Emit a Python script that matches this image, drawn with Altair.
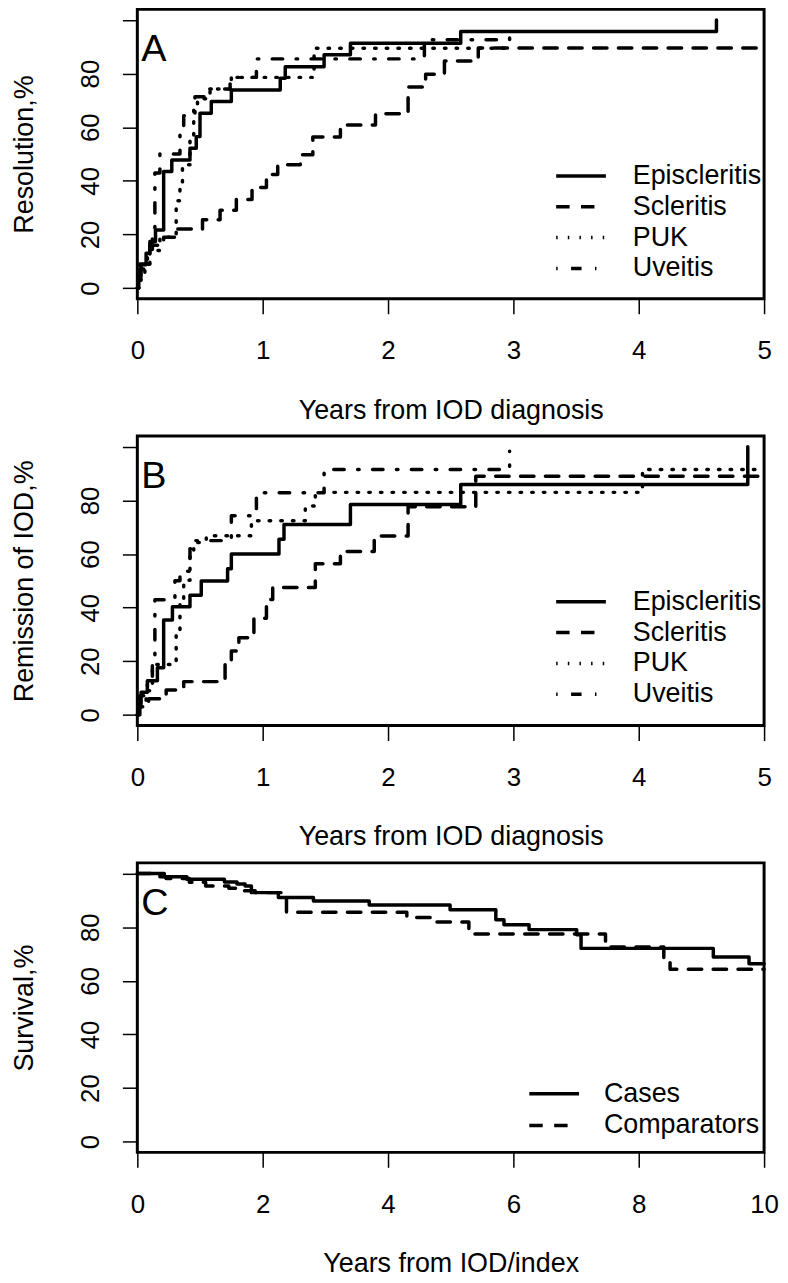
import altair as alt
import pandas as pd

FONT = "Liberation Sans"

GROUPS = ["Episcleritis", "Scleritis", "PUK", "Uveitis"]
C_GROUPS = ["Cases", "Comparators"]

# Panel A: resolution (%)
A_EPI_T = [0, 0.01, 0.03, 0.07, 0.10, 0.145, 0.21, 0.275, 0.42, 0.47, 0.50, 0.59, 0.75, 1.14, 1.18, 1.49, 1.70, 2.58, 4.62]
A_EPI_Y = [0, 4.3, 8.7, 13.0, 17.4, 21.7, 43.5, 47.8, 52.2, 56.5, 65.2, 69.6, 73.9, 78.3, 82.6, 87.0, 91.3, 95.7, 100]
A_SCL_T = [0, 0.01, 0.02, 0.10, 0.21, 0.31, 0.52, 0.66, 0.79, 0.915, 1.03, 1.12, 1.30, 1.40, 1.62, 1.90, 2.16, 2.30, 2.45, 2.72, 5.0]
A_SCL_Y = [0, 3, 9, 16, 19, 22, 25.5, 29, 33, 37.5, 42.4, 46, 49.7, 56.4, 60.8, 65, 75, 79.8, 84.7, 89.6, 89.6]
A_PUK_T = [0, 0.03, 0.06, 0.10, 0.18, 0.31, 0.34, 0.36, 0.42, 0.45, 0.48, 0.58, 0.75, 1.41, 2.97]
A_PUK_Y = [0, 4, 9, 14, 19, 32.6, 39, 46, 57, 67, 70.6, 74.3, 78.6, 89.5, 89.5]
A_UVE_T = [0, 0.02, 0.08, 0.12, 0.14, 0.18, 0.34, 0.37, 0.46, 0.54, 0.74, 0.95, 2.29, 2.97]
A_UVE_Y = [0, 7.1, 14.3, 21.4, 42.9, 50, 57.1, 64.3, 71.4, 74.3, 78.6, 85.5, 92.6, 98]

# Panel B: remission of IOD (%)
B_EPI_T = [0, 0.01, 0.03, 0.08, 0.16, 0.21, 0.28, 0.42, 0.51, 0.72, 0.75, 1.13, 1.17, 1.70, 2.58, 4.87]
B_EPI_Y = [0, 4.2, 8.4, 12.7, 17.6, 35.4, 40.3, 44.6, 49.9, 54.5, 60, 65.5, 71, 78.5, 85.9, 100]
B_SCL_T = [0, 0.02, 0.09, 0.23, 0.37, 0.70, 0.75, 0.81, 0.93, 1.03, 1.08, 1.42, 1.62, 1.89, 2.16, 2.70, 5.0]
B_SCL_Y = [0, 3, 6, 9.3, 12.4, 19, 23.8, 28.8, 36, 43, 47.5, 56.4, 60.9, 66.7, 77.6, 89, 89]
B_PUK_T = [0, 0.03, 0.07, 0.12, 0.31, 0.34, 0.37, 0.42, 0.45, 0.55, 0.91, 1.34, 1.42, 4.03, 5.0]
B_PUK_Y = [0, 4, 9, 18.8, 31, 43.4, 50.2, 61.3, 64.3, 66.8, 72.4, 77.9, 83, 91.5, 91.5]
B_UVE_T = [0, 0.02, 0.08, 0.12, 0.14, 0.30, 0.34, 0.42, 0.45, 0.75, 0.95, 1.49, 2.97]
B_UVE_Y = [0, 7.1, 14.3, 21.4, 42.9, 50, 53.6, 62, 65, 74.3, 82.9, 91.5, 98.3]

# Panel C: survival (%)
C_CASE_T = [0, 0.43, 0.79, 1.39, 1.59, 1.72, 1.82, 2.25, 2.81, 3.70, 4.99, 5.72, 5.85, 6.25, 7.01, 7.08, 9.19, 9.76, 10.0]
C_CASE_Y = [100, 98.8, 97.9, 96.9, 96.1, 95.4, 92.9, 91.1, 89.8, 88.3, 86.5, 82.8, 80.9, 79.1, 77.2, 72.1, 68.9, 66.4, 66.4]
C_COMP_T = [0, 0.36, 0.46, 0.83, 1.09, 1.46, 1.69, 1.88, 2.38, 4.30, 4.70, 5.29, 7.47, 8.40, 8.50, 10.0]
C_COMP_Y = [100, 98.8, 98.2, 96.8, 95.4, 94.5, 93.6, 92.9, 85.6, 83.6, 81.9, 77.5, 72.6, 68, 64.3, 64.3]

Y_TICKS = [0, 20, 40, 60, 80, 100]
AB_X_TICKS = [0, 1, 2, 3, 4, 5]
C_X_TICKS = [0, 2, 4, 6, 8, 10]

DASH4 = [[1, 0], [13.5, 11.5], [1.5, 10.2], [1.5, 13.5, 10.5, 13.5]]
DASH2 = [[1, 0], [13.5, 11.5]]

W, H = 630, 291


def steps(groups, times, values):
    rows = []
    for g, ts, vs in zip(groups, times, values):
        for i, (t, v) in enumerate(zip(ts, vs)):
            rows.append({"group": g, "t": t, "v": v, "order": i})
    return pd.DataFrame(rows)


def panel(df, letter, xmax, xticks, xtitle, ytitle, groups, dashes, lx, ly, loff, rowh):
    x = alt.X("t:Q", scale=alt.Scale(domain=[0, xmax], nice=False, zero=False),
              axis=alt.Axis(values=xticks, title=xtitle))
    y = alt.Y("v:Q", scale=alt.Scale(domain=[-4, 104], nice=False, zero=False),
              axis=alt.Axis(values=Y_TICKS, title=ytitle,
                            labelExpr="datum.value == 100 ? '' : datum.label"))
    legend = alt.Legend(title=None, orient="none", legendX=lx, legendY=ly,
                        symbolType="stroke", symbolSize=2500, symbolStrokeWidth=3.5,
                        symbolStrokeColor="black", labelFont=FONT, labelFontSize=27,
                        labelColor="black", labelOffset=loff, clipHeight=rowh,
                        rowPadding=0, padding=0, labelLimit=0)
    lines = alt.Chart(df).mark_line(
        interpolate="step-after", color="black", strokeWidth=3.5,
        strokeCap="round", strokeJoin="round"
    ).encode(
        x=x, y=y,
        strokeDash=alt.StrokeDash("group:N", scale=alt.Scale(domain=groups, range=dashes),
                                  sort=groups, legend=legend),
        order="order:Q",
    )
    label = alt.Chart(pd.DataFrame({"label": [letter]})).mark_text(
        align="left", baseline="alphabetic", fontSize=38, font=FONT, color="black"
    ).encode(x=alt.value(4), y=alt.value(52), text="label:N")
    return alt.layer(lines, label).properties(width=W, height=H)


dfA = steps(GROUPS, [A_EPI_T, A_SCL_T, A_PUK_T, A_UVE_T], [A_EPI_Y, A_SCL_Y, A_PUK_Y, A_UVE_Y])
dfB = steps(GROUPS, [B_EPI_T, B_SCL_T, B_PUK_T, B_UVE_T], [B_EPI_Y, B_SCL_Y, B_PUK_Y, B_UVE_Y])
dfC = steps(C_GROUPS, [C_CASE_T, C_COMP_T], [C_CASE_Y, C_COMP_Y])

pA = panel(dfA, "A", 5, AB_X_TICKS, "Years from IOD diagnosis", "Resolution,%",
           GROUPS, DASH4, 419, 152, 25, 31)
pB = panel(dfB, "B", 5, AB_X_TICKS, "Years from IOD diagnosis", "Remission of IOD,%",
           GROUPS, DASH4, 419, 151, 25, 31)
pC = panel(dfC, "C", 10, C_X_TICKS, "Years from IOD/index", "Survival,%",
           C_GROUPS, DASH2, 392, 216, 23, 32)

chart = alt.vconcat(pA, pB, pC, spacing=9).resolve_scale(
    strokeDash="independent", x="independent", y="independent"
).resolve_legend(strokeDash="independent").properties(
    padding={"left": 1, "top": -4, "right": 0, "bottom": 0}
).configure_view(
    stroke="black", strokeWidth=3
).configure_axis(
    domain=False, grid=False, tickColor="black", tickWidth=1.5, tickSize=15,
    labelFont=FONT, labelFontSize=26, labelColor="black", labelPadding=24,
    labelFlush=False, labelOverlap=False, labelBound=False,
    titleFont=FONT, titleFontSize=27, titleFontWeight="normal", titleColor="black",
    titlePadding=34
).configure_axisLeft(
    labelAngle=-90, labelAlign="center", labelBaseline="alphabetic", titlePadding=39
)

chart.save("out.html", embed_options={"renderer": "svg", "actions": False})
